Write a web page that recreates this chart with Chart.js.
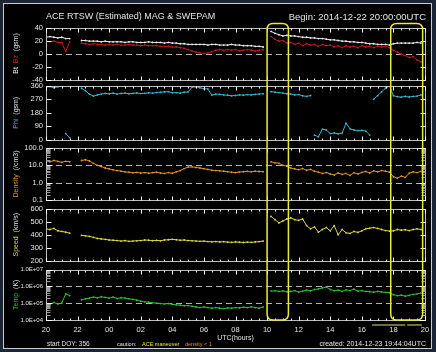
<!DOCTYPE html>
<html><head><meta charset="utf-8">
<script src="https://cdn.jsdelivr.net/npm/chart.js@4.4.1/dist/chart.umd.min.js"></script>
<style>
html,body{margin:0;padding:0;background:#1c2535;}
#wrap{position:relative;width:436px;height:352px;overflow:hidden;background:#1c2535;}
#frame{position:absolute;left:3px;top:3px;width:427px;height:344px;background:#000;border:1px solid #c8ccd4;}
canvas{position:absolute;left:0;top:0;}
</style></head><body>
<div id="wrap"><div id="frame"></div>
<canvas id="c1" width="436" height="352"></canvas>
<canvas id="c2" width="436" height="352"></canvas>
<canvas id="c3" width="436" height="352"></canvas>
<canvas id="c4" width="436" height="352"></canvas>
<canvas id="c5" width="436" height="352"></canvas>
</div>
<script>
// ---- time categories: hours after 2014-12-22 20:00 UTC, 15-minute cadence ----
const hours = Array.from({length: 97}, (_, i) => i / 4);

// ---- series values ----
const btValues = [
  25,26,25,24, 25,23,23,null, null,20,20,19, 19,19,18,19, 18,18,18,18, 17,18,18,17,
  17,17,18,17, 17,17,16,17, 16,16,15,15, 14,14,14,14, 14,13,14,14, 13,13,13,14,
  13,13,12,12, 12,11,11,10, null,34,31,29, 27,28,27,27, 26,25,25,24, 24,23,23,22,
  21,21,20,19, 19,18,18,17, 17,16,15,15, 14,14,14,13, 15,16,16,16, 16,16,17,16, null];
const bzValues = [
  19,18,19,17, 17,3,18,null, null,16,15,14, 15,14,14,13, 14,13,14,13, 13,14,13,13,
  12,13,12,12, 12,11,11,11, 10,10,9,8, 6,4,2,1, 0,1,3,5, 6,5,6,5,
  6,4,5,6, 5,4,5,6, null,26,22,19, 20,16,17,14, 16,12,15,13, 14,11,14,12,
  13,10,12,9, 12,10,11,9, 12,10,11,9, 11,10,11,9, 5,2,-1,-3, -6,-5,-10,-13, null];
const phiValues = [
  352,356,348,355, 358,40,12,null, null,345,328,305, 292,300,306,310, 308,312,306,310, 312,308,310,313,
  309,311,314,312, 316,318,320,322, 314,316,312,318, 320,352,355,348, 342,340,298,305, 304,300,298,294,
  296,300,298,302, 300,304,306,308, null,322,318,316, 312,308,306,300, 302,294,290,296, 30,18,70,64,
  40,44,38,42, 110,72,64,60, 62,56,30,270, 295,320,345,360, 295,288,285,290, 286,290,292,300, null];
const densityValues = [
  18,16,19,17, 15,17,16,null, null,19,21,18, 13,10,8.5,7, 6.2,5.5,5,4.6, 4.2,4,3.7,3.9,
  3.6,3.8,3.5,3.8, 4.0,3.6,3.4,3.8, 3.5,4.2,5.0,6.5, 7.8,8.2,7.5,7.0, 6.4,5.8,5.2,5.0, 4.8,4.6,4.3,4.0,
  3.8,4.1,4.3,4.5, 4.2,4.6,4.4,4.3, null,16,14,13, 10,9,7,6.2, 5.6,6.5,5.2,5.8, 4.6,4.0,3.4,3.8,
  3.2,2.8,3.6,3.0, 3.4,2.6,3.8,3.2, 3.9,4.4,3.6,4.8, 4.2,5.0,4.6,4.0, 2.2,1.8,2.4,2.0, 3.5,4.2,3.8,4.5, null];
const speedValues = [
  445,440,448,430, 425,420,412,null, null,395,392,388, 380,372,368,365, 360,358,356,352, 355,350,352,354,
  356,360,358,355, 357,354,360,362, 365,362,358,360, 356,354,352,350, 352,348,346,348, 345,347,344,342,
  345,343,341,344, 342,345,348,352, null,540,515,490, 505,520,528,515, 510,520,470,445, 460,420,440,455,
  430,470,400,440, 415,410,425,418, 430,445,450,455, 448,440,432,428, 430,440,435,438, 432,440,445,440, null];
const tempValues = [
  9e4,8.5e4,1.1e5,9e4, 1.0e5,3.6e5,2.8e5,null, null,1.6e5,1.8e5,2.0e5, 2.3e5,2.1e5,2.4e5,2.2e5,
  2.0e5,2.3e5,1.9e5,2.1e5, 2.0e5,1.8e5,1.7e5,1.5e5, 1.3e5,1.2e5,1.15e5,1.05e5, 1.0e5,9.5e4,9e4,9.5e4,
  8.5e4,8e4,7.5e4,7e4, 7.2e4,6.5e4,6e4,5.5e4, 6e4,5.5e4,5e4,5.5e4, 5e4,4.8e4,5.2e4,5e4,
  5.5e4,5.2e4,5.8e4,5.5e4, 6e4,5.5e4,5e4,6e4, null,5.2e5,5.5e5,5e5, 5.3e5,4.8e5,5e5,5.5e5,
  4.6e5,5.2e5,6e5,5.4e5, 6.5e5,7e5,8e5,9e5, 6.5e5,5.5e5,6e5,5e5, 6.2e5,5.6e5,6.8e5,5.2e5,
  5.5e5,5e5,4.8e5,4.5e5, 5e5,4.6e5,4.4e5,4.2e5, 3.2e5,2.8e5,3e5,2.6e5, 2.9e5,3.3e5,3.6e5,4e5, null];

// ---- ticks ----
const hourTicks = [0,2,4,6,8,10,12,14,16,18,20,22,24];
const hourLabels = ['20','22','00','02','04','06','08','10','12','14','16','18','20'];
const btTicks = [-40,-20,0,20,40];
const btTickLabels = ['-40','-20','0','20','40'];
const phiTicks = [0,90,180,270,360];
const phiTickLabels = ['0','90','180','270','360'];
const densityTicks = [0.1,1,10,100];
const densityTickLabels = ['0.1','1.0','10.0','100.0'];
const speedTicks = [200,300,400,500,600];
const speedTickLabels = ['200','300','400','500','600'];
const tempTicks = [1e4,1e5,1e6,1e7];
const tempTickLabels = ['1.0E+04','1.0E+05','1.0E+06','1.0E+07'];

// ---- events ----
const maneuverStart = [14.0, 21.83];
const maneuverEnd = [15.35, 23.85];
const maneuverBarStart = [20.65, 22.87];
const maneuverBarEnd = [22.75, 23.8];

const FONT = "'Liberation Sans', Arial, sans-serif";
const C = {bt:'#ececec', bz:'#c01c1c', phi:'#3ab4cc', den:'#e0922e', spd:'#dcd83c', tmp:'#2ec02e', yel:'#ecec34', txt:'#e4e4e4'};

const deco = {
  id: 'deco',
  beforeDatasetsDraw(chart, args, o) {
    const {ctx, chartArea: a} = chart; const y = chart.scales.y;
    ctx.save();
    ctx.strokeStyle = '#b4b4b4'; ctx.lineWidth = 1; ctx.setLineDash([6, 4]);
    (o.dashes || []).forEach(v => {
      const py = Math.round(y.getPixelForValue(v)) + 0.5;
      ctx.beginPath(); ctx.moveTo(a.left, py); ctx.lineTo(a.right, py); ctx.stroke();
    });
    ctx.restore();
  },
  afterDatasetsDraw(chart, args, o) {
    const {ctx, chartArea: a} = chart; const y = chart.scales.y; const x = chart.scales.x;
    const L = Math.round(a.left) + 0.5, R = Math.round(a.right) + 0.5, T = Math.round(a.top) + 0.5, B = Math.round(a.bottom) + 0.5;
    ctx.save();
    ctx.lineWidth = 1;
    ctx.strokeStyle = '#bdbdbd';
    ctx.beginPath(); ctx.moveTo(L, T); ctx.lineTo(R, T); ctx.lineTo(R, B); ctx.lineTo(L, B); ctx.closePath(); ctx.stroke();
    // x ticks along top and bottom borders
    ctx.strokeStyle = '#ffffff';
    for (let h = 0; h <= 24; h += 0.5) {
      const px = Math.round(x.getPixelForValue(h)) + 0.5;
      const len = (h % 2 === 0) ? 4 : 2;
      ctx.beginPath(); ctx.moveTo(px, T); ctx.lineTo(px, T + len); ctx.moveTo(px, B); ctx.lineTo(px, B - len); ctx.stroke();
    }
    // y ticks on both sides, pointing inward
    const drawY = (v, len, col) => {
      const py = Math.round(y.getPixelForValue(v)) + 0.5;
      ctx.strokeStyle = col;
      ctx.beginPath(); ctx.moveTo(L, py); ctx.lineTo(L + len, py); ctx.moveTo(R, py); ctx.lineTo(R - len, py); ctx.stroke();
    };
    if (o.log) {
      o.ticks.forEach((d, i) => {
        if (i < o.ticks.length - 1) for (let k = 2; k <= 9; k++) drawY(k * d, 4, '#9a9a9a');
        drawY(d, 6, '#ffffff');
      });
    } else {
      o.ticks.forEach(v => drawY(v, 5, '#ffffff'));
    }
    // rotated multi-colour axis label
    ctx.font = `7px ${FONT}`;
    const total = o.label.reduce((s, p) => s + ctx.measureText(p[0]).width, 0);
    ctx.translate(16, (a.top + a.bottom) / 2 + (o.labelShift || 0));
    ctx.rotate(-Math.PI / 2);
    ctx.textBaseline = 'middle'; ctx.textAlign = 'left';
    let cx = -total / 2;
    o.label.forEach(p => { ctx.fillStyle = p[1]; ctx.fillText(p[0], cx, 0); cx += ctx.measureText(p[0]).width; });
    ctx.restore();
  }
};

const overlay = {
  id: 'overlay',
  afterDraw(chart) {
    const {ctx} = chart; const x = chart.scales.x;
    const top = charts[0].chartArea.top - 4, bot = chart.chartArea.bottom;
    ctx.save();
    ctx.strokeStyle = C.yel; ctx.lineWidth = 1.5;
    maneuverStart.forEach((s, i) => {
      const l = x.getPixelForValue(s), r = x.getPixelForValue(maneuverEnd[i]), rad = 6;
      ctx.beginPath();
      ctx.moveTo(l + rad, top); ctx.lineTo(r - rad, top); ctx.quadraticCurveTo(r, top, r, top + rad);
      ctx.lineTo(r, bot - rad); ctx.quadraticCurveTo(r, bot, r - rad, bot);
      ctx.lineTo(l + rad, bot); ctx.quadraticCurveTo(l, bot, l, bot - rad);
      ctx.lineTo(l, top + rad); ctx.quadraticCurveTo(l, top, l + rad, top);
      ctx.stroke();
    });
    ctx.strokeStyle = '#9a9250'; ctx.lineWidth = 1.5;
    maneuverBarStart.forEach((s, i) => {
      ctx.beginPath(); ctx.moveTo(x.getPixelForValue(s), bot + 5); ctx.lineTo(x.getPixelForValue(maneuverBarEnd[i]), bot + 5); ctx.stroke();
    });
    ctx.fillStyle = C.txt; ctx.textBaseline = 'middle';
    ctx.font = `9px ${FONT}`; ctx.textAlign = 'left';
    ctx.fillText('ACE RTSW (Estimated) MAG & SWEPAM', 46, 17);
    ctx.font = `9.5px ${FONT}`; ctx.textAlign = 'right';
    ctx.fillText('Begin: 2014-12-22 20:00:00UTC', 426, 17);
    ctx.font = `7px ${FONT}`; ctx.textAlign = 'center';
    ctx.fillText('UTC(hours)', (chart.chartArea.left + chart.chartArea.right) / 2, 338);
    ctx.textAlign = 'left';
    ctx.font = `6.5px ${FONT}`; ctx.fillText('start DOY: 356', 47, 344);
    ctx.font = `5.5px ${FONT}`; ctx.fillText('caution:', 117, 344);
    ctx.fillStyle = C.yel; ctx.fillText('ACE maneuver', 142, 344);
    ctx.fillStyle = C.den; ctx.fillText('density < 1', 185, 344);
    ctx.fillStyle = C.txt; ctx.font = `7px ${FONT}`; ctx.textAlign = 'right';
    ctx.fillText('created: 2014-12-23 19:44:04UTC', 426, 344);
    ctx.restore();
  }
};

function series(vals, color, extra) {
  return Object.assign({
    data: hours.map((h, i) => ({x: h, y: vals[i]})),
    borderColor: color, backgroundColor: color, borderWidth: 1,
    pointRadius: 0.9, pointBorderWidth: 0, spanGaps: false, tension: 0
  }, extra || {});
}

const charts = [];
function panel(id, cfg) {
  const ch = new Chart(document.getElementById(id), {
    type: 'line',
    data: {datasets: cfg.datasets},
    options: {
      responsive: false, animation: false, events: [],
      layout: {padding: {left: 4, right: 11, top: cfg.top, bottom: cfg.bottom}},
      plugins: {legend: {display: false}, tooltip: {enabled: false}, deco: cfg.deco},
      scales: {
        x: Object.assign({type: 'linear', min: 0, max: 24, display: false}, cfg.x || {}),
        y: {
          type: cfg.log ? 'logarithmic' : 'linear', min: cfg.min, max: cfg.max,
          afterFit: s => { s.width = 42; },
          afterBuildTicks: s => { s.ticks = cfg.ticks.map(v => ({value: v})); },
          ticks: {autoSkip: false, padding: 3, color: C.txt, font: {family: FONT, size: cfg.tickSize || 7.5},
                  callback: (v, i) => cfg.tickLabels[i]},
          grid: {display: false, drawTicks: false}, border: {display: false}
        }
      }
    },
    plugins: [deco].concat(cfg.plugins || [])
  });
  charts.push(ch);
  return ch;
}

panel('c1', {top: 27.5, bottom: 352 - 79.5, min: -40, max: 40, ticks: btTicks, tickLabels: btTickLabels,
  datasets: [series(bzValues, C.bz), series(btValues, C.bt)],
  deco: {dashes: [0], ticks: btTicks, label: [['Bt', C.bt], ['  Bz', '#d02222'], ['  (gsm)', C.txt]]}});
panel('c2', {top: 86, bottom: 352 - 139.5, min: 0, max: 360, ticks: phiTicks, tickLabels: phiTickLabels,
  datasets: [series(phiValues, C.phi, {segment: {borderColor: c => Math.abs(c.p1.parsed.y - c.p0.parsed.y) > 150 ? 'rgba(0,0,0,0)' : C.phi}})],
  deco: {ticks: phiTicks, label: [['Phi', C.phi], ['  (gsm)', C.txt]]}});
panel('c3', {top: 148, bottom: 352 - 200, min: 0.1, max: 100, log: true, ticks: densityTicks, tickLabels: densityTickLabels,
  datasets: [series(densityValues, C.den)],
  deco: {log: true, dashes: [1, 10], ticks: densityTicks, label: [['Density', C.den], ['  (/cm3)', C.txt]]}});
panel('c4', {top: 208.5, bottom: 352 - 261, min: 200, max: 600, ticks: speedTicks, tickLabels: speedTickLabels,
  datasets: [series(speedValues, C.spd)],
  deco: {ticks: speedTicks, label: [['Speed', C.spd], ['  (km/s)', C.txt]]}});
panel('c5', {top: 269.5, bottom: 0, min: 1e4, max: 1e7, log: true, ticks: tempTicks, tickLabels: tempTickLabels, tickSize: 6,
  datasets: [series(tempValues, C.tmp)],
  x: {display: true, afterFit: s => { s.height = 32; },
      afterBuildTicks: s => { s.ticks = hourTicks.map(v => ({value: v})); },
      ticks: {autoSkip: false, maxRotation: 0, padding: 5.5, color: C.txt, font: {family: FONT, size: 7.5}, callback: (v, i) => hourLabels[i]},
      grid: {display: false, drawTicks: false}, border: {display: false}},
  deco: {log: true, dashes: [1e5, 1e6], ticks: tempTicks, label: [['Temp', C.tmp], ['  (K)', C.txt]]},
  plugins: [overlay]});
</script>
</body></html>
